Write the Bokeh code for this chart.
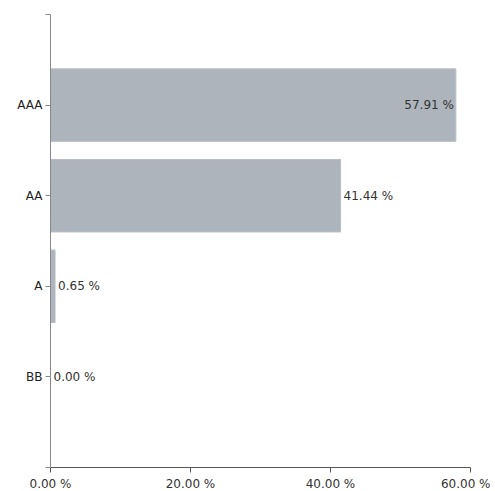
from bokeh.plotting import figure
from bokeh.models import ColumnDataSource, FixedTicker, Range1d
from bokeh.core.properties import value
from bokeh.embed import file_html
from bokeh.resources import INLINE

categories = ["BB", "A", "AA", "AAA"]
shares = [0.00, 0.65, 41.44, 57.91]
x_ticks = [0, 20, 40, 60]

pos = list(range(1, len(categories) + 1))
labels = [f"{v:.2f} %" for v in shares]
inside = [v > 50 for v in shares]
src = ColumnDataSource(dict(
    y=pos, v=shares, label=labels,
    align=["right" if i else "left" for i in inside],
    xoff=[-2 if i else 3 for i in inside],
))

p = figure(output_backend="svg", toolbar_location=None,
           frame_width=420, frame_height=453,
           min_border_left=50, min_border_top=14, min_border_bottom=22, min_border_right=20,
           x_range=Range1d(0, 60), y_range=Range1d(0, len(categories) + 1))
p.outline_line_color = None
p.xgrid.visible = False
p.ygrid.visible = False

p.hbar(y="y", left=0, right="v", height=0.8, source=src,
       fill_color="#aeb4bc", line_color="#b8bdc4", line_width=1)
p.text(x="v", y="y", text="label", source=src, text_align="align", x_offset="xoff",
       text_baseline="middle", text_font=value("DejaVu Sans"), text_font_size="12px",
       text_color="#333333")

p.xaxis.ticker = FixedTicker(ticks=x_ticks)
p.xaxis.major_label_overrides = {t: f"{t:.2f} %" for t in x_ticks}
p.xaxis.minor_tick_line_color = None
p.xaxis.major_tick_in = 0
p.xaxis.major_tick_out = 5
p.xaxis.major_label_standoff = 4
p.xaxis.axis_line_color = "#555555"
p.xaxis.major_tick_line_color = "#555555"
p.xaxis.major_label_text_font = "DejaVu Sans"
p.xaxis.major_label_text_font_size = "12px"
p.xaxis.major_label_text_color = "#333333"

yt = [0] + pos + [len(categories) + 1]
p.yaxis.ticker = FixedTicker(ticks=yt)
ov = {0: "", len(categories) + 1: ""}
ov.update({i: c for i, c in zip(pos, categories)})
p.yaxis.major_label_overrides = ov
p.yaxis.minor_tick_line_color = None
p.yaxis.major_tick_in = 0
p.yaxis.major_tick_out = 5
p.yaxis.major_label_standoff = 3
p.yaxis.axis_line_color = "#888888"
p.yaxis.major_tick_line_color = "#888888"
p.yaxis.major_label_text_font = "DejaVu Sans"
p.yaxis.major_label_text_font_size = "12px"
p.yaxis.major_label_text_color = "#222222"

open("out.html", "w").write(file_html(p, INLINE))
